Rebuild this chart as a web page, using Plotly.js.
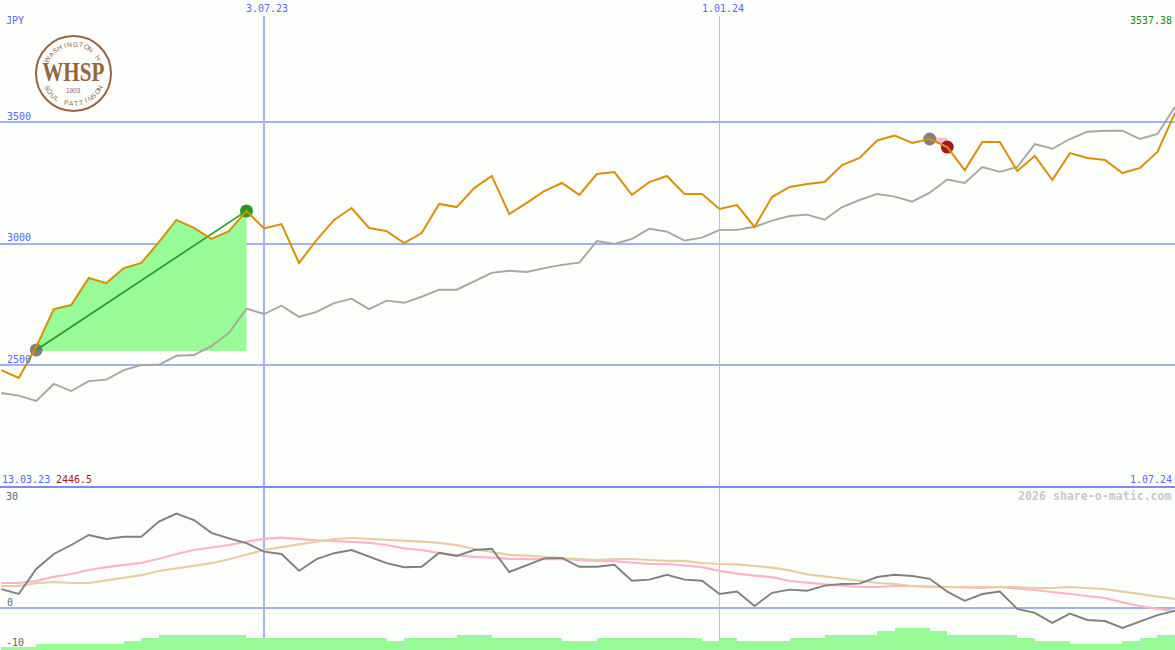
<!DOCTYPE html>
<html>
<head>
<meta charset="utf-8">
<script src="https://cdn.plot.ly/plotly-3.0.1.min.js"></script>
<style>html,body{margin:0;padding:0;background:#fdfffd;overflow:hidden}</style>
</head>
<body>
<div id="chart" style="width:1175px;height:650px"></div>
<script>
// ---- weekly closes (JPY)
const price = [2479,2446.5,2574,2730,2747,2858,2837,2899,2920,3006,3097,3064,3019,3051,3134,3062,3080,2920,3014,3097,3146,3064,3051,3002,3043,3163,3150,3228,3278,3121,3167,3216,3249,3200,3286,3294,3200,3253,3278,3204,3204,3142,3158,3068,3191,3233,3245,3253,3323,3352,3424,3444,3414,3430,3397,3302,3418,3418,3298,3360,3261,3372,3352,3344,3290,3311,3377,3537.38];
const index = [2385,2374,2352,2422,2393,2434,2440,2479,2500,2501,2538,2541,2578,2632,2732,2710,2744,2698,2719,2755,2773,2730,2765,2756,2781,2810,2810,2843,2879,2888,2883,2899,2912,2921,3010,2998,3019,3061,3049,3012,3024,3056,3056,3069,3094,3113,3119,3098,3150,3179,3204,3193,3172,3209,3263,3249,3315,3295,3315,3409,3390,3430,3460,3464,3464,3430,3451,3563];
// ---- lower panel
const momentum = [4.7,3.5,9.75,13.5,15.75,18.25,17.25,17.8,17.8,21.6,23.6,22,18.8,17.4,16.2,14.1,13.5,9.3,12.2,13.7,14.5,12.8,11.2,10.2,10.3,13.8,13,14.5,14.8,9,10.75,12.4,12.5,10.3,10.3,10.8,6.8,7.1,8.3,7.1,6.8,3.5,4.1,0.5,3.8,4.6,4.3,5.6,6,6.1,7.75,8.3,8,7.3,4.1,1.8,3.5,4.1,-0.25,-1.2,-3.7,-1.4,-3,-3.25,-5,-3.4,-1.8,-0.7];
const avgPink = [6.25,6.25,6.8,7.8,8.5,9.5,10.2,10.75,11.3,12.3,13.5,14.5,15.1,15.75,16.6,17.3,17.6,17.25,16.9,16.75,16.6,16.3,15.75,14.9,14.5,13.7,13.2,12.8,12.6,12.3,12.2,12.3,12.3,12,11.75,11.7,11.3,11,11,10.6,10.2,9.3,8.6,8.1,7.7,6.75,6.3,5.9,5.6,5.25,5.25,5.5,5.5,5.4,5.3,5.1,5,5.25,4.9,4.5,4,3.5,3.1,2.5,1.4,0.5,-0.2,-0.7];
const avgTan = [5.5,5.5,6.2,6.5,6.25,6.25,6.9,7.6,8.2,9.25,9.9,10.5,11.2,12.2,13.3,14.5,15.2,15.9,16.6,17.25,17.5,17.3,17.1,16.8,16.6,16.3,15.7,14.75,14.1,13.3,13.1,12.75,12.5,12.25,12,12.25,12.25,12,11.8,11.8,11.25,11,10.9,10.5,10.1,9.4,8.4,7.9,7.4,6.8,6.25,6,5.5,5.25,5.25,5.4,5.4,5.4,5.25,5,5,5.25,5,4.7,4.1,3.5,2.9,2.3];
const volume = [1,1,2,2,2,2,2,3,4,5,5,5,5,5,4,4,4,4,4,4,4,4,3,4,4,4,5,5,4,4,4,4,3,3,4,4,4,4,4,4,3,4,3,3,3,4,4,5,5,5,6.3,7.3,7.3,6.3,5,5,5,5,4,3,3,2,2,2,3,4,5,5];
// ---- labels and reference levels
const priceTicks = [2500,3000,3500];
const lowerTicks = [0];
const dateTicks = ['2023-07-03','2024-01-01'];
const dateTickText = ['3.07.23','1.01.24'];
const winTrade = {from:2, to:14, base:2558};
const lossTrade = {from:53, to:54, base:3435};

const weekMs = 7*86400000;
const startMs = Date.UTC(2023,2,20);
const dates = price.map((_,i)=>new Date(startMs+i*weekMs).toISOString().slice(0,10));

const W=1175,H=650;
const px=x=>x/W, py=y=>1-y/H;
const mono='"DejaVu Sans Mono", monospace';
const blue='#5566ff', brown='#96653f';
const rep=(n,v)=>Array(n).fill(v);

function tradeFill(t,color){
  const x=dates.slice(t.from,t.to+1), y=price.slice(t.from,t.to+1);
  return [
    {x,y:rep(x.length,t.base),mode:'lines',line:{width:0},hoverinfo:'skip',showlegend:false},
    {x,y,mode:'lines',line:{width:0},fill:'tonexty',fillcolor:color,hoverinfo:'skip',showlegend:false}
  ];
}
function dot(i,color){
  return {x:[dates[i]],y:[price[i]],mode:'markers',marker:{size:13,color},hoverinfo:'skip',showlegend:false};
}
const dotBase = {x:[dates[winTrade.from]],y:[winTrade.base+4],mode:'markers',marker:{size:13,color:'#808080'},hoverinfo:'skip',showlegend:false};

const traces=[
  ...tradeFill(winTrade,'#98fb98'),
  ...tradeFill(lossTrade,'#ffb6c8'),
  {x:dates,y:index,mode:'lines',line:{color:'#a9a5a0',width:1.9},name:'index',showlegend:false},
  dotBase,
  dot(winTrade.to,'#229922'),
  dot(lossTrade.from,'#808080'),
  dot(lossTrade.to,'#a01c1c'),
  {x:[dates[winTrade.from],dates[winTrade.to]],y:[winTrade.base+4,price[winTrade.to]],mode:'lines',line:{color:'#229922',width:1.6},hoverinfo:'skip',showlegend:false},
  {x:dates,y:price,mode:'lines',line:{color:'#d89000',width:2},name:'price',showlegend:false},
  {x:dates,y:volume,type:'bar',yaxis:'y3',width:weekMs,offset:0,marker:{color:'#98fb98',line:{width:0}},name:'volume',showlegend:false},
  {x:dates,y:avgPink,mode:'lines',yaxis:'y2',line:{color:'#ffb3c9',width:2.2,shape:'linear'},showlegend:false},
  {x:dates,y:avgTan,mode:'lines',yaxis:'y2',line:{color:'#e6cf9f',width:2.2},showlegend:false},
  {x:dates,y:momentum,mode:'lines',yaxis:'y2',line:{color:'#808080',width:1.9},showlegend:false}
];

function lab(text,x,y,color,anchor,extra){
  return Object.assign({text,xref:'paper',yref:'paper',x:px(x),y:py(y),xanchor:anchor||'left',yanchor:'middle',showarrow:false,
    font:{family:mono,size:10,color},borderpad:0,borderwidth:0},extra||{});
}
const annotations=[
  lab('JPY',6,20,blue),
  lab('3537.38',1172,20,'#228822','right'),
  lab('13.03.23',1.5,479,blue),
  lab('2446.5',55.5,479,'#a01c1c'),
  lab('1.07.24',1172,479,blue,'right'),
  lab('2026 share-o-matic.com',1172,496,'#c8c8c8','right',{font:{family:mono,size:11.6,color:'#c8c8c8',weight:700}}),
  lab('30',6,496,'#666666'),
  lab('-10',6,642,'#666666'),
];
priceTicks.forEach(v=>annotations.push({text:String(v),xref:'paper',yref:'y',x:px(6),y:v,xanchor:'left',yanchor:'middle',yshift:6,showarrow:false,borderpad:0,font:{family:mono,size:10,color:blue}}));
lowerTicks.forEach(v=>annotations.push({text:String(v),xref:'paper',yref:'y2',x:px(6),y:v,xanchor:'left',yanchor:'middle',yshift:6,showarrow:false,borderpad:0,font:{family:mono,size:10,color:'#666666'}}));
dateTicks.forEach((d,k)=>annotations.push({text:dateTickText[k],xref:'x',yref:'paper',x:d,y:py(9),xanchor:'center',yanchor:'middle',xshift:3,showarrow:false,borderpad:0,font:{family:mono,size:10,color:blue}}));

// logo
const cx=73.5,cy=73.5;
annotations.push({text:'<b>WHSP</b>',xref:'paper',yref:'paper',x:px(cx),y:py(72),xanchor:'center',yanchor:'middle',showarrow:false,borderpad:0,font:{family:'"Liberation Serif",serif',size:24,color:brown}});
annotations.push({text:'1903',xref:'paper',yref:'paper',x:px(cx),y:py(90.5),xanchor:'center',yanchor:'middle',showarrow:false,borderpad:0,font:{family:'"Liberation Sans",sans-serif',size:6.5,color:brown}});
function arcText(str,r,a0,a1,top){
  [...str].forEach((ch,i)=>{
    if(ch===' ')return;
    const a=a0+(a1-a0)*i/(str.length-1), rad=a*Math.PI/180;
    const dx=r*Math.sin(rad), dy=top?-r*Math.cos(rad):r*Math.cos(rad);
    annotations.push({text:ch,xref:'paper',yref:'paper',x:px(cx+dx),y:py(cy+dy),xanchor:'center',yanchor:'middle',showarrow:false,borderpad:0,
      textangle:top?a:-a,font:{family:'"Liberation Sans",sans-serif',size:6.8,color:brown}});
  });
}
arcText('WASHINGTON H',29.5,-60,57,true);
arcText('SOUL PATTINSON',30,-62,62,false);

const sepY=487;
const shapes=[
  {type:'line',layer:'below',xref:'x',yref:'paper',x0:dateTicks[0],x1:dateTicks[0],y0:py(650),y1:py(16),line:{color:'#a3b1f0',width:2}},
  {type:'line',layer:'below',xref:'x',yref:'paper',x0:dateTicks[1],x1:dateTicks[1],y0:py(650),y1:py(16),line:{color:'#b4bdec',width:1}},
  {type:'line',layer:'below',xref:'paper',yref:'paper',x0:0,x1:1,y0:py(sepY),y1:py(sepY),line:{color:'#7a8cee',width:2}},
  {type:'circle',layer:'above',xref:'paper',yref:'paper',x0:px(cx-37.5),x1:px(cx+37.5),y0:py(cy+37.5),y1:py(cy-37.5),line:{color:brown,width:2}}
];

const split=1-488/650;
const layout={
  width:W,height:H,margin:{l:0,r:0,t:0,b:0},
  paper_bgcolor:'#fdfffd',plot_bgcolor:'#fdfffd',
  showlegend:false,hovermode:false,barmode:'overlay',bargap:0,
  xaxis:{type:'date',range:['2023-03-19 12:30','2024-07-01'],tickvals:dateTicks,ticktext:dateTickText,showgrid:false,showticklabels:false,ticks:'',zeroline:false,showline:false,fixedrange:true},
  yaxis:{domain:[split,1],range:[1994,4002],tickvals:priceTicks,showgrid:true,gridcolor:'#a3b1f0',gridwidth:2,showticklabels:false,ticks:'',zeroline:false,showline:false,fixedrange:true},
  yaxis2:{domain:[0,split],range:[-10.5,30],tickvals:lowerTicks,showgrid:true,gridcolor:'#a3b1f0',gridwidth:2,showticklabels:false,ticks:'',zeroline:false,showline:false,fixedrange:true},
  yaxis3:{domain:[0,split],anchor:'x',overlaying:'y2',range:[0,54],showgrid:false,showticklabels:false,ticks:'',zeroline:false,showline:false,fixedrange:true},
  annotations,shapes
};
Plotly.newPlot('chart',traces,layout,{staticPlot:true,displayModeBar:false}).then(()=>{
  // the logo's lettering is tall and slightly condensed
  document.querySelectorAll('.annotation-text').forEach(t=>{
    if(t.textContent==='WHSP'){
      const b=t.getBBox(), c=b.x+b.width/2, m=b.y+b.height/2;
      t.setAttribute('transform',`translate(${c},${m}) scale(0.88,1.18) translate(${-c},${-m})`);
    }
  });
});
</script>
</body>
</html>
